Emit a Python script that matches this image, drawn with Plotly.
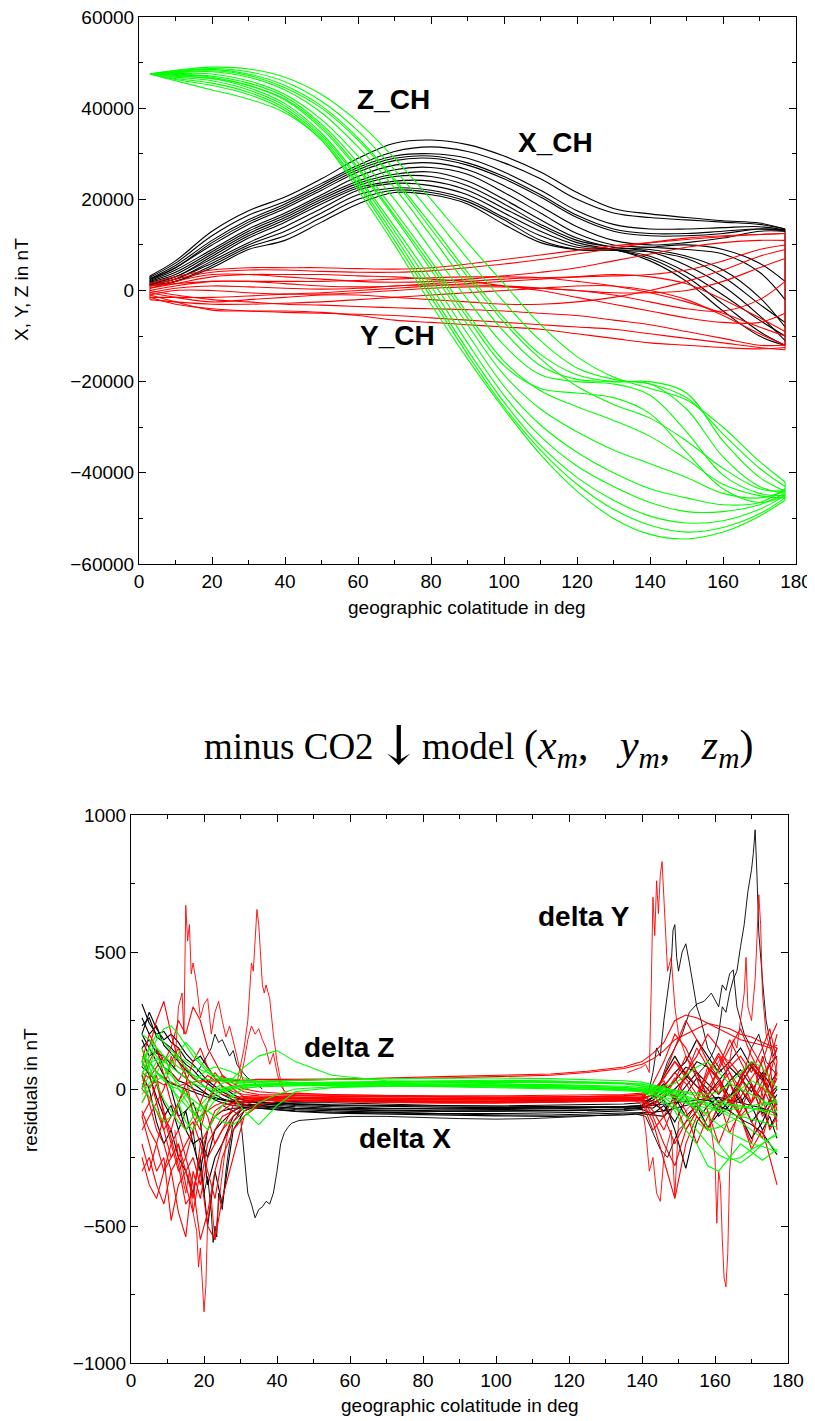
import plotly.graph_objects as go

# ---------------- top panel: field components along the passes ----------------
THETA_TOP = [3, 10, 20, 30, 40, 50, 60, 70, 80, 90, 100, 110, 120, 130, 140, 150, 160, 170, 177]

X_CH = [
    [3200, 6500, 13000, 17500, 20500, 24500, 29000, 32300, 33000, 32000, 29500, 26000, 21500, 18000, 16800, 16000, 15300, 14800, 13500],
    [2900, 6000, 12000, 16500, 19500, 23500, 27500, 30500, 31500, 30500, 28000, 24500, 20000, 17000, 16000, 15500, 15000, 14500, 13500],
    [2600, 5500, 11000, 15500, 19000, 23000, 27000, 29500, 30000, 29000, 26000, 22000, 17500, 14500, 13500, 13500, 13800, 14000, 13300],
    [2400, 5000, 10000, 14500, 18000, 22000, 26000, 28500, 29000, 27500, 24500, 20500, 16000, 13000, 12000, 12000, 12500, 13500, 13200],
    [2200, 4500, 9000, 13500, 17000, 21000, 25000, 27500, 28000, 26500, 23000, 18500, 14000, 11000, 10000, 10500, 11500, 13000, 13000],
    [2000, 4000, 8500, 13000, 16500, 20500, 24000, 26500, 27000, 25500, 21500, 17000, 12500, 10000, 9500, 9000, 8000, 4000, -2000],
    [1800, 3500, 8000, 12500, 16000, 20000, 23500, 25500, 26000, 24000, 20000, 15500, 11500, 9500, 9000, 7500, 4500, -1500, -8000],
    [1600, 3000, 7500, 12000, 15500, 19500, 23000, 25000, 25000, 23000, 19000, 14500, 11000, 9500, 8500, 5500, 1000, -5500, -11000],
    [1500, 3000, 7000, 11500, 15000, 19000, 22500, 24000, 24000, 22000, 18000, 14000, 10500, 9000, 7000, 3000, -3000, -9000, -12000],
    [1400, 2500, 6500, 10500, 14000, 18000, 22000, 23500, 23000, 21000, 17000, 13000, 10000, 9000, 6500, 2000, -4500, -10000, -12000],
    [1200, 2500, 6000, 10000, 13000, 17000, 21000, 22500, 22000, 20000, 16000, 12000, 9500, 9000, 7500, 4000, -1000, -6500, -10000],
    [1100, 2000, 5500, 9500, 12000, 16000, 20000, 22000, 21500, 19500, 15500, 11000, 9000, 8800, 8500, 7000, 3000, -3000, -7000],
    [1000, 2000, 5000, 9000, 11000, 15000, 19000, 21500, 21000, 19000, 14500, 10500, 9000, 9000, 9500, 10000, 9000, 6000, 2000],
    [2500, 5000, 10500, 15000, 18500, 22500, 26500, 29000, 29500, 28000, 25000, 21000, 16500, 13500, 12500, 12500, 13000, 13500, 13000],
]

Y_CH = [
    [1500, 3000, 4500, 5000, 5000, 5000, 4800, 4700, 5000, 5800, 6800, 7800, 8800, 9800, 10500, 11200, 11800, 12300, 12500],
    [1000, 2500, 4000, 4500, 4500, 4200, 4000, 4000, 4300, 5000, 5800, 6800, 8000, 9200, 10500, 11500, 12000, 12300, 12500],
    [500, 2000, 3500, 3500, 3000, 2500, 2000, 1800, 2000, 2500, 3200, 4000, 5000, 6500, 8000, 9500, 10500, 11000, 11000],
    [0, 1000, 2000, 2000, 1500, 1000, 800, 1000, 1500, 2000, 2500, 2800, 3000, 3200, 3500, 4500, 6500, 9000, 10000],
    [-500, 500, 1000, 800, 500, 300, 500, 1000, 1200, 1200, 1000, 500, 0, -500, -500, 0, 2000, 5000, 7000],
    [-1000, 0, 0, -500, -800, -800, -500, 0, 500, 800, 800, 500, 0, -1000, -2500, -4000, -4500, -2000, 2000],
    [-1500, -1500, -1500, -1200, -800, -500, 0, 500, 1000, 1500, 2000, 2500, 3000, 3500, 3000, 1500, -2000, -6000, -9000],
    [-2000, -2500, -3000, -3000, -2800, -2500, -2000, -1500, -1000, -500, 0, 500, 1000, 1000, 0, -2000, -5500, -9500, -12000],
    [-1500, -3000, -4000, -4500, -4800, -5000, -5200, -5500, -6000, -6500, -7000, -7500, -8000, -8500, -9500, -10500, -11500, -12500, -13000],
    [-1000, -2500, -4300, -4500, -4500, -4800, -5500, -6500, -7000, -7500, -8000, -8500, -9500, -10500, -11500, -12000, -12500, -12800, -12500],
    [0, -1000, -2000, -2500, -3000, -3200, -3500, -3800, -4000, -4200, -4500, -5000, -5500, -6500, -7500, -9000, -10500, -12000, -12000],
    [1000, 1500, 2000, 2000, 2000, 2000, 2200, 2500, 2800, 3000, 3000, 2800, 2000, 1000, -500, -2500, -5000, -8000, -10000],
    [500, 1500, 3000, 3500, 3500, 3500, 3200, 3000, 2500, 2000, 1000, 0, -1500, -3000, -4500, -6000, -7000, -7000, -5000],
    [-500, -1500, -2500, -2000, -1500, -1000, -1000, -1500, -2000, -2500, -3000, -3000, -2500, -1500, 0, 2000, 4500, 7500, 9000],
]

Z_CH = [
    [47500, 48300, 49000, 48600, 46800, 43000, 37000, 29000, 20000, 10500, 1500, -7500, -14500, -19000, -21500, -24000, -30000, -37500, -42000],
    [47500, 48200, 48700, 48000, 45800, 41500, 35000, 26500, 17000, 7000, -2500, -11000, -17000, -19500, -20500, -23500, -31500, -39000, -43000],
    [47500, 48000, 48500, 47500, 45000, 40500, 33500, 24500, 14500, 4000, -6000, -14000, -18500, -20000, -20000, -22500, -33000, -41000, -44000],
    [47500, 47800, 48000, 46800, 44000, 39000, 31500, 22500, 12000, 1000, -9000, -16500, -19500, -20000, -20500, -26000, -36500, -43000, -44500],
    [47500, 47600, 47500, 46000, 43000, 37500, 29500, 20000, 9000, -2000, -12000, -18500, -20000, -20500, -23000, -31000, -40500, -44500, -45000],
    [47500, 47400, 47000, 45500, 42500, 36500, 28000, 17500, 6500, -5000, -15500, -22000, -25500, -28500, -32000, -37000, -42500, -45000, -45500],
    [47500, 47300, 46800, 45000, 41800, 35500, 26500, 16000, 4500, -7500, -18500, -26000, -31000, -35000, -38000, -41000, -44500, -45500, -44000],
    [47500, 47000, 46500, 44500, 41000, 34500, 25000, 14000, 2500, -9500, -21000, -29500, -35500, -40000, -43500, -45500, -47000, -46500, -43500],
    [47500, 46800, 46000, 44000, 40500, 34000, 24500, 13000, 1000, -11500, -23000, -32000, -38500, -43000, -46500, -48500, -48500, -47000, -44500],
    [47500, 46500, 45500, 43500, 40000, 33500, 23500, 12000, -500, -13000, -24500, -34000, -41000, -46000, -49500, -51000, -50500, -48000, -45000],
    [47500, 46300, 45000, 43000, 39500, 33000, 23000, 11000, -1500, -14000, -25500, -35000, -42500, -48000, -51500, -53000, -52000, -49000, -45500],
    [47500, 46000, 44000, 42000, 39000, 33000, 22000, 10000, -3000, -15000, -26000, -36000, -44000, -50000, -53500, -54500, -53000, -49500, -46000],
    [47500, 47900, 48200, 47200, 44500, 40000, 33000, 24000, 13500, 3000, -7000, -15000, -21000, -25000, -28000, -33000, -39000, -43500, -44000],
    [47500, 47200, 46500, 45000, 42000, 36000, 27000, 16500, 5500, -6000, -16500, -21500, -22500, -23500, -27000, -35500, -43500, -46500, -45000],
]

# ---------------- bottom panel: residuals ----------------
RES_THETA = [3, 5, 7, 9, 11, 13, 15, 17, 19, 21, 23, 25, 28, 31, 35, 40, 45, 55, 70, 85,
             100, 115, 125, 135, 140, 143, 146, 149, 152, 155, 158, 161, 164, 167, 170, 173, 175, 177]

DX_BAND = [
    [310, 240, 200, 210, 170, 150, 110, 90, 60, 30, 10, -10, -30, -40, -50, -55, -60, -65, -70, -72,
     -72, -70, -68, -65, -60, -40, -10, 30, 80, 60, 20, -20, 30, 70, 10, -40, 20, 60],
    [230, 260, 190, 170, 150, 120, 90, 70, 40, 20, 0, -20, -40, -55, -60, -65, -70, -75, -80, -82,
     -82, -80, -78, -75, -70, -50, -30, 0, 40, 100, 80, 40, -30, 20, 80, 40, -20, 10],
    [150, 180, 130, 120, 90, 60, 40, 20, 0, -20, -40, -50, -60, -65, -70, -75, -80, -85, -88, -90,
     -90, -88, -85, -80, -75, -90, -60, -120, -40, -80, -20, -100, -60, -30, -120, -70, -140, -90],
    [80, 60, 20, -50, -100, -60, -150, -200, -180, -250, -150, -120, -80, -60, -55, -60, -65, -70, -72, -75,
     -75, -72, -70, -68, -65, -70, -40, -150, -290, -120, -60, -30, -80, 0, -60, -150, -100, -180],
    [200, 150, 100, 50, 0, -100, -80, -50, -120, -350, -250, -200, -100, -70, -60, -55, -50, -50, -55, -60,
     -62, -60, -58, -55, -50, -30, 50, 120, 50, 10, -20, 30, 80, 40, -10, 60, 20, -60],
    [50, 0, -120, -200, -150, -250, -300, -380, -250, -500, -300, -420, -150, -80, -60, -50, -45, -40, -42, -45,
     -45, -43, -40, -38, -35, -20, 20, -40, 10, 60, -30, -80, 20, -50, 10, -90, -40, 0],
    [120, 100, 60, 40, 20, 10, 0, -10, -20, -30, -35, -40, -45, -48, -50, -52, -55, -58, -60, -62,
     -64, -65, -66, -66, -65, -60, -55, -50, -45, -40, -35, -30, -40, -50, -60, -70, -80, -90],
    [180, 120, 140, 80, 60, 30, 20, 0, -10, -20, -30, -40, -50, -60, -65, -70, -75, -80, -85, -90,
     -95, -95, -92, -90, -88, -85, -80, -70, -60, -50, -40, -60, -80, -110, -130, -160, -200, -240],
    [260, 200, 230, 160, 130, 100, 70, 40, 20, 0, -20, -35, -50, -58, -62, -66, -70, -74, -78, -80,
     -80, -78, -76, -72, -68, -50, -80, -30, -100, -60, -140, -90, -40, -100, -180, -120, -60, -20],
    [100, 50, -30, -100, -60, -150, -80, -200, -300, -150, -100, -80, -70, -68, -70, -75, -82, -88, -92, -95,
     -98, -100, -98, -95, -90, -95, -100, -60, -20, 40, 0, -50, -30, 40, 100, 50, -30, -100],
    [200, 280, 220, 180, 200, 170, 130, 100, 120, 80, 40, 10, -20, -40, -48, -52, -56, -60, -64, -66,
     -68, -68, -66, -64, -60, -30, 10, 60, 100, 180, 120, 60, 100, 150, 80, 30, 90, 120],
]

DY_BAND = [
    [-100, -200, -300, -250, -480, -350, -300, -400, -200, -150, -100, -80, -50, -30, -30, -35, -35, -38, -40, -40,
     -40, -40, -38, -35, -30, -80, -150, -50, 50, 150, 80, -20, 100, 50, -50, 120, 30, -80],
    [50, -50, -150, -200, -300, -450, -540, -300, -400, -250, -200, -150, -100, -60, -40, -35, -35, -35, -36, -38,
     -38, -36, -35, -32, -30, 20, 100, 200, 150, 60, -30, 80, 180, 100, 20, -60, 50, 150],
    [-50, 0, 50, -100, -200, -150, -250, -350, -550, -450, -300, -200, -120, -80, -50, -30, -25, -25, -28, -30,
     -30, -30, -28, -25, -20, 0, -100, -200, -120, -50, 50, 120, 30, -100, -200, 0, 100, -150],
    [0, 100, 150, 50, -50, -100, -150, -120, -200, -300, -400, -250, -150, -100, -50, -20, -15, -20, -25, -28,
     -30, -30, -28, -25, -20, -50, 50, 150, 250, 180, 100, 40, -50, 20, 150, 80, -30, 60],
    [-200, -300, -200, -100, -150, -50, 0, -80, -120, -50, 20, 50, 0, -30, -40, -40, -42, -45, -48, -50,
     -50, -48, -45, -42, -40, -60, -20, 40, -30, -100, -150, -60, 20, -40, -120, -180, -80, -50],
    [100, 200, 150, 100, 150, 250, 200, 300, 250, 150, 100, 50, 20, 0, -10, -15, -20, -22, -24, -25,
     -25, -24, -22, -20, -15, 0, 30, -50, -150, -80, 0, 70, 150, 220, 120, 40, 100, 200],
    [-300, -250, -350, -420, -300, -250, -200, -150, -100, -80, -60, -50, -40, -35, -35, -40, -42, -44, -46, -48,
     -48, -47, -45, -43, -40, -20, 10, 60, 20, -40, 80, 30, -60, 10, 90, 30, -20, 40],
    [0, -30, -80, -150, -100, -50, 20, 100, 150, 80, 40, 10, -10, -20, -25, -28, -30, -32, -34, -35,
     -35, -34, -33, -32, -30, -100, -200, -280, -150, -80, -20, 20, -40, -100, -50, 10, -50, -120],
    [-150, -100, -50, -150, -250, -200, -300, -250, -350, -200, -150, -100, -80, -50, -35, -30, -30, -33, -35, -37,
     -37, -36, -35, -33, -30, -5, 40, 100, 60, 10, -40, 10, 60, 0, -50, 30, -10, -50],
    [20, 10, 30, 15, 25, 10, 20, 25, 30, 28, 30, 32, 30, 32, 35, 35, 35, 36, 38, 40,
     45, 50, 60, 75, 90, 110, 140, 180, 200, 220, 240, 230, 220, 200, 190, 170, 160, 150],
    [60, 40, 80, 120, 60, 30, 80, 40, 20, 50, 30, 40, 35, 30, 28, 30, 32, 35, 40, 45,
     50, 55, 65, 80, 100, 130, 170, 250, 270, 260, 240, 220, 200, 180, 170, 160, 150, 160],
    [-80, -150, -200, -300, -250, -200, -350, -450, -300, -500, -550, -400, -250, -100, -60, -45, -40, -42, -44, -46,
     -46, -45, -44, -42, -40, -120, -260, -400, -200, -100, -150, -60, -20, -100, -220, -150, -250, -350],
    [-250, -350, -400, -300, -200, -300, -250, -150, -50, -100, -200, -150, -60, -40, -38, -40, -40, -42, -44, -45,
     -45, -44, -42, -40, -38, -60, -30, 30, 120, 40, -80, -200, -100, 50, 100, -20, -150, -100],
    [150, 50, -50, 0, 100, 150, 50, -100, -150, -50, 0, -20, -30, -28, -30, -32, -33, -35, -38, -40,
     -40, -40, -38, -36, -34, -20, 10, -30, 60, 120, 200, 150, 80, 120, 60, 150, 220, 100],
    [-100, -50, 20, -80, -180, -280, -420, -380, -250, -150, -80, -60, -50, -45, -42, -43, -45, -47, -50, -52,
     -52, -50, -48, -46, -44, -150, -100, -20, -80, -200, -100, -40, -160, -80, 20, -100, -60, 100],
    [80, 150, 250, 320, 200, 100, 50, 0, -50, 20, 60, 30, 10, -10, -20, -22, -25, -27, -29, -30,
     -30, -29, -28, -27, -25, -10, 40, 100, 40, -20, 60, 130, 60, -30, 40, 100, 180, 240],
]

DZ_BAND = [
    [50, 120, 180, 220, 230, 200, 160, 120, 90, 60, 40, 30, 20, 18, 16, 15, 15, 14, 12, 10,
     8, 5, 0, -5, -10, -20, -30, -40, -50, -60, -70, -80, -75, -70, -60, -55, -50, -50],
    [100, 150, 120, 80, 50, 20, -20, -60, -80, -50, -20, 0, 10, 15, 18, 20, 22, 22, 20, 18,
     15, 10, 5, 0, -5, -15, -30, -60, -100, -150, -200, -240, -260, -250, -220, -200, -180, -170],
    [0, 50, 100, 80, 20, -50, -120, -150, -100, -50, -20, 0, -30, -80, -130, -60, -10, 5, 10, 12,
     10, 8, 5, 0, -5, -20, -40, -80, -150, -200, -280, -300, -250, -200, -230, -260, -240, -220],
    [80, 150, 200, 170, 140, 120, 100, 80, 70, 60, 50, 40, 35, 30, 28, 25, 23, 25, 28, 30,
     32, 30, 25, 20, 10, 0, -10, -20, -30, -40, -50, -55, -60, -65, -70, -75, -80, -85],
    [150, 80, 20, -40, -80, -120, -150, -100, -60, -30, 0, 20, 40, 80, 120, 140, 100, 50, 30, 25,
     20, 15, 10, 5, 0, -10, -20, -30, -40, -50, -60, -80, -100, -120, -150, -180, -200, -230],
    [-50, 0, 60, 100, 130, 110, 80, 50, 20, 0, -10, -5, 5, 10, 15, 18, 20, 20, 18, 15,
     12, 8, 5, 0, -10, -30, -50, -70, -100, -120, -150, -140, -120, -100, -80, -60, -50, -40],
    [20, -30, -80, -120, -100, -60, -20, 20, 50, 70, 80, 75, 60, 40, 25, 18, 15, 12, 10, 8,
     5, 2, 0, -2, -5, 0, 10, 20, 50, 80, 100, 60, 20, 0, -20, -40, -60, -80],
    [120, 100, 60, 30, 10, 0, -20, -40, -60, -80, -100, -120, -130, -100, -50, -20, 0, 8, 12, 14,
     14, 12, 10, 5, 0, -5, -10, -20, -40, -80, -140, -200, -250, -270, -240, -200, -180, -160],
    [60, 90, 110, 100, 80, 60, 40, 20, 10, 5, 0, 5, 10, 12, 14, 15, 16, 18, 20, 22,
     24, 24, 22, 20, 18, 10, 0, -5, -10, -15, -20, -10, 20, 60, 100, 80, 40, 0],
    [200, 180, 150, 120, 100, 80, 60, 50, 40, 35, 30, 28, 26, 25, 28, 30, 32, 35, 38, 40,
     40, 38, 35, 30, 25, 15, 5, -5, -15, -25, -35, -45, -55, -60, -70, -80, -90, -100],
    [30, 80, 150, 120, 60, 0, -40, -80, -120, -150, -100, -60, -20, 0, 10, 15, 18, 22, 25, 28,
     28, 26, 22, 18, 12, 5, -5, -15, -30, -60, -100, -130, -160, -180, -200, -210, -220, -230],
    [100, 60, 30, 50, 90, 130, 170, 140, 100, 70, 50, 35, 28, 24, 22, 20, 20, 22, 24, 26,
     28, 28, 26, 22, 18, 10, 0, -10, -25, -40, -55, -70, -90, -100, -110, -120, -130, -140],
    [-20, 20, 60, 40, 0, -30, -60, -90, -110, -80, -40, -10, 0, 5, 8, 10, 12, 14, 16, 18,
     18, 16, 14, 10, 5, -5, -15, -30, -50, -70, -90, -60, -30, 0, 30, 10, -20, -50],
]

# disturbed passes (own sampling)
DX_SPIKES = [
    ([25, 28, 30, 31, 32, 33, 34, 35, 36, 37, 38, 39, 40, 41, 42, 43, 44, 46, 50, 60,
      70, 80, 90, 100, 110, 120, 130, 138, 141, 143, 145, 147, 150, 155],
     [-60, -80, -100, -250, -380, -420, -470, -440, -430, -410, -420, -380, -300, -200, -160, -140, -125, -115, -110, -100,
      -100, -105, -108, -110, -108, -102, -95, -90, -100, -160, -220, -250, -150, -80]),
    ([17, 18, 19, 20, 21, 22, 22.5, 23, 23.5, 24, 25, 26, 27, 28, 30],
     [-150, -250, -300, -380, -320, -450, -560, -500, -540, -380, -440, -300, -200, -120, -80]),
    ([18, 20, 22, 23, 24, 25, 26, 27, 28, 29, 30, 32, 34, 36],
     [60, 100, 150, 200, 170, 180, 150, 120, 140, 90, 70, 40, 20, 0]),
    ([155, 157, 159, 160, 161, 162, 163, 164, 165, 166, 167, 168, 169, 170, 170.5, 171, 171.5, 172, 173, 174,
      175, 176, 177],
     [50, 80, 120, 150, 200, 300, 280, 350, 400, 430, 520, 600, 720, 800, 860, 946, 780, 570, 400, 250,
      180, 120, 150]),
    ([140, 142, 143, 144, 145, 146, 147, 148, 148.5, 149, 149.5, 150, 151, 152, 153, 154, 155, 156, 157, 158,
      160, 162],
     [-40, 0, 60, 150, 120, 250, 350, 450, 580, 600, 480, 430, 500, 530, 460, 380, 300, 260, 200, 150,
      100, 60]),
    ([140, 143, 145, 147, 149, 151, 153, 155, 157, 159, 161, 162, 163, 164, 165, 166, 167, 168, 170, 172,
      174, 177],
     [-60, -30, 20, 100, 150, 200, 280, 310, 320, 350, 300, 380, 360, 420, 435, 300, 250, 200, 150, 200,
      100, 50]),
]

DY_SPIKES = [
    ([10, 11, 12, 13, 14, 14.5, 15, 15.5, 16, 16.5, 17, 18, 19, 20, 21, 22, 23, 24, 25, 26,
      27, 28, 29, 30, 31, 32],
     [50, 120, 80, 300, 350, 200, 670, 540, 600, 420, 460, 380, 260, 310, 330, 200, 280, 320, 250, 190,
      230, 180, 120, 60, 20, 0]),
    ([29, 30, 31, 32, 33, 33.5, 34, 34.5, 35, 35.5, 36, 36.5, 37, 38, 39, 40, 41, 42],
     [20, 80, 150, 250, 460, 430, 560, 655, 600, 480, 380, 350, 380, 330, 200, 100, 30, -10]),
    ([28, 30, 31, 32, 33, 34, 35, 36, 37, 38, 39, 40, 41, 43],
     [0, 40, 100, 180, 230, 200, 220, 180, 150, 90, 130, 60, 10, -20]),
    ([12, 13, 14, 15, 16, 17, 18, 18.5, 19, 19.5, 20, 20.5, 21, 22, 23, 24, 25, 26, 27],
     [-150, -250, -320, -380, -300, -450, -520, -650, -580, -700, -813, -720, -480, -400, -550, -420, -300, -200, -120]),
    ([136, 138, 140, 141, 142, 142.5, 143, 143.5, 144, 144.5, 145, 145.5, 146, 146.5, 147, 148, 149, 150, 152, 154,
      156],
     [60, 70, 80, 90, 60, 350, 700, 560, 760, 640, 780, 830, 700, 560, 430, 480, 300, 200, 120, 80,
      40]),
    ([155, 157, 158, 159, 160, 160.5, 161, 161.5, 162, 162.5, 163, 163.5, 164, 165, 166, 168],
     [-50, -100, -80, -150, -250, -490, -300, -350, -550, -690, -722, -600, -300, -150, -100, -60]),
    ([160, 162, 164, 165, 166, 167, 168, 168.5, 169, 170, 171, 171.5, 172, 172.5, 173, 174, 175, 176, 177],
     [80, 120, 100, 180, 150, 250, 350, 480, 300, 250, 400, 550, 709, 600, 350, 200, 150, 100, 60]),
    ([138, 140, 141, 142, 143, 144, 145, 146, 147, 148, 149, 150, 152, 154],
     [-40, -60, -150, -300, -250, -380, -410, -250, -200, -150, -390, -120, -80, -50]),
]

BLACK, RED, GREEN = "#000000", "#ff0000", "#00ff00"

fig = go.Figure()


def add_top(curves, color):
    for c in curves:
        fig.add_trace(go.Scatter(x=THETA_TOP, y=c, mode="lines", line=dict(color=color, width=1.1, shape="spline", smoothing=1.0),
                                 xaxis="x", yaxis="y", hoverinfo="skip"))
    # the passes join each other at the ends of the orbit
    for i in (0, -1):
        ends = [c[i] for c in curves]
        fig.add_trace(go.Scatter(x=[THETA_TOP[i], THETA_TOP[i]], y=[min(ends), max(ends)], mode="lines",
                                 line=dict(color=color, width=1.1), xaxis="x", yaxis="y", hoverinfo="skip"))


add_top(X_CH, BLACK)
add_top(Y_CH, RED)
add_top(Z_CH, GREEN)


def add_res(band, spikes, color):
    for c in band:
        fig.add_trace(go.Scatter(x=RES_THETA, y=c, mode="lines", line=dict(color=color, width=1.1),
                                 xaxis="x2", yaxis="y2", hoverinfo="skip"))
    for th, v in spikes:
        fig.add_trace(go.Scatter(x=th, y=v, mode="lines", line=dict(color=color, width=0.9),
                                 xaxis="x2", yaxis="y2", hoverinfo="skip"))


add_res(DX_BAND, DX_SPIKES, BLACK)
add_res(DY_BAND, DY_SPIKES, RED)
add_res(DZ_BAND, [], GREEN)

# the page body adds 8px around the figure, so the figure is a bit smaller
OFF = 8
W, H = 815 - OFF, 1421 - OFF


def px(p):
    return (p - OFF) / W


def py(p):
    return 1 - (p - OFF) / H


FONT = "Liberation Sans, Arial, sans-serif"

axis_common = dict(showline=True, linecolor="black", linewidth=1, mirror="allticks", ticks="inside",
                   ticklen=7, tickwidth=1, tickcolor="black", showgrid=False, zeroline=False, automargin=False,
                   ticklabeloverflow="allow", tickfont=dict(family=FONT, size=19, color="black"))

fig.update_layout(
    width=W, height=H, margin=dict(l=0, r=0, t=0, b=0, autoexpand=False),
    paper_bgcolor="white", plot_bgcolor="white", showlegend=False,
    xaxis=dict(domain=[px(139), px(796)], range=[0, 180], tick0=0, dtick=20, anchor="y",
               minor=dict(dtick=10, ticks="inside", ticklen=4, tickcolor="black"), **axis_common),
    yaxis=dict(domain=[py(564), py(17)], range=[-60000, 60000], tick0=0, dtick=20000, tickformat="d",
               anchor="x", minor=dict(dtick=10000, ticks="inside", ticklen=4, tickcolor="black"), **axis_common),
    xaxis2=dict(domain=[px(131), px(788)], range=[0, 180], tick0=0, dtick=20, anchor="y2",
                minor=dict(dtick=10, ticks="inside", ticklen=4, tickcolor="black"), **axis_common),
    yaxis2=dict(domain=[py(1363), py(815)], range=[-1000, 1000], tick0=0, dtick=500, tickformat="d",
                anchor="x2", minor=dict(dtick=250, ticks="inside", ticklen=4, tickcolor="black"), **axis_common),
)

ann = []
mid = dict(showarrow=False, xanchor="center", yanchor="middle")
lab = dict(family=FONT, size=28, color="black")
# curve labels
ann.append(dict(x=69.6, y=41800, xref="x", yref="y", text="<b>Z_CH</b>", font=lab, **mid))
ann.append(dict(x=114.2, y=32400, xref="x", yref="y", text="<b>X_CH</b>", font=lab, **mid))
ann.append(dict(x=70.7, y=-9800, xref="x", yref="y", text="<b>Y_CH</b>", font=lab, **mid))
ann.append(dict(x=124.1, y=628, xref="x2", yref="y2", text="<b>delta Y</b>", font=lab, **mid))
ann.append(dict(x=59.7, y=150, xref="x2", yref="y2", text="<b>delta Z</b>", font=lab, **mid))
ann.append(dict(x=75.1, y=-179, xref="x2", yref="y2", text="<b>delta X</b>", font=lab, **mid))

# axis titles
tf = dict(family=FONT, size=19, color="black")
ann.append(dict(x=px(22), y=py(290), xref="paper", yref="paper", text="X, Y, Z in nT", textangle=-90,
                font=tf, **mid))
ann.append(dict(x=px(30), y=py(1090), xref="paper", yref="paper", text="residuals in nT", textangle=-90,
                font=tf, **mid))
ann.append(dict(x=px(467), y=py(607), xref="paper", yref="paper", text="geographic colatitude in deg",
                font=tf, **mid))
ann.append(dict(x=px(460), y=py(1405), xref="paper", yref="paper", text="geographic colatitude in deg",
                font=tf, **mid))

# connecting caption between the panels
sf = dict(family="Liberation Serif, Times New Roman, serif", size=37, color="black")
mf = dict(family="Liberation Serif, Times New Roman, serif", size=42, color="black")
ann.append(dict(x=px(376), y=py(746), xref="paper", yref="paper", text="minus CO2", font=sf,
                showarrow=False, xanchor="right", yanchor="middle"))
ann.append(dict(x=px(398), y=py(745), xref="paper", yref="paper", text="↓",
                font=dict(family="DejaVu Serif", size=54, color="black"), **mid))
ann.append(dict(x=px(420), y=py(746), xref="paper", yref="paper", text="model", font=sf,
                showarrow=False, xanchor="left", yanchor="middle"))
ann.append(dict(x=px(522), y=py(748), xref="paper", yref="paper",
                text="(<i>x</i><sub><i>m</i></sub>,&nbsp;&nbsp;&nbsp;<i>y</i><sub><i>m</i></sub>,&nbsp;&nbsp;&nbsp;"
                     "<i>z</i><sub><i>m</i></sub>)",
                font=mf, showarrow=False, xanchor="left", yanchor="middle"))

fig.update_layout(annotations=ann)
fig.write_html("out.html")
